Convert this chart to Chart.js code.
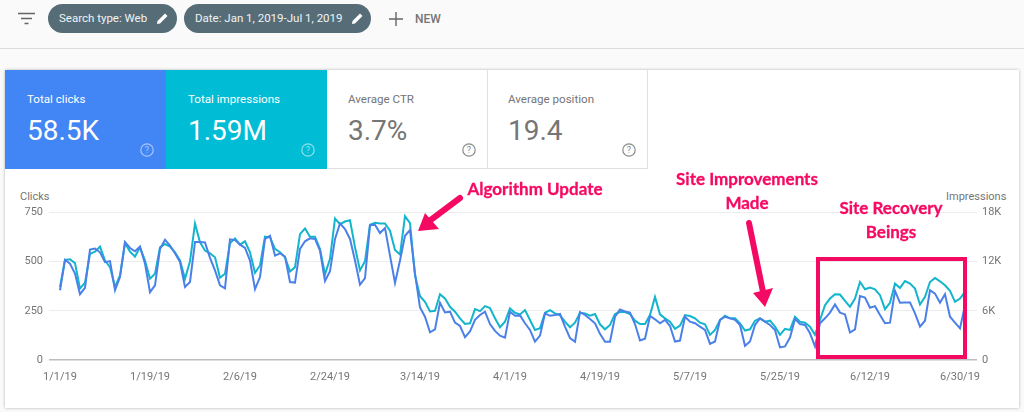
<!DOCTYPE html>
<html>
<head>
<meta charset="utf-8">
<title>Search performance</title>
<script src="https://cdn.jsdelivr.net/npm/chart.js@4"></script>
<style>
  * { box-sizing: border-box; }
  html, body { margin: 0; padding: 0; width: 1024px; height: 412px; overflow: hidden; background: #fafafa; font-family: Roboto, sans-serif; }
  .abs { position: absolute; }
  #bar { left: 0; top: 0; width: 1024px; height: 49px; border-bottom: 1px solid #dcdcdc; }
  .chip { height: 29px; top: 4px; border-radius: 15px; background: #566d78; color: #f1f4f5; font-size: 11.5px; line-height: 28px; padding-left: 11px; white-space: nowrap; }
  #card { left: 5px; top: 70px; width: 1014px; height: 338px; background: #fff; box-shadow: 0 0 3px rgba(0,0,0,.28); }
  .tile { top: 70px; width: 161px; height: 99px; background: #fff; color: #757575; }
  .tile .lbl { position: absolute; left: 22px; top: 22px; font-size: 11.6px; line-height: 14px; white-space: nowrap; }
  .tile .val { position: absolute; left: 22px; top: 44px; font-size: 28px; line-height: 34px; white-space: nowrap; }
  .tile svg { position: absolute; left: 134px; top: 72px; }
  .axt { top: 190px; font-size: 11px; line-height: 13px; color: #757575; }
  .note { color: #f50a63; font-family: Lato, sans-serif; font-weight: 700; font-size: 17px; line-height: 24px; text-align: center; white-space: nowrap; -webkit-text-stroke: 0.3px #f50a63; }
  #wrap { left: 0; top: 200px; width: 1024px; height: 212px; }
  #box { left: 816px; top: 257px; width: 151px; height: 102px; border: 4px solid #f50a63; }
</style>
</head>
<body>
<div class="abs" id="bar"></div>
<svg class="abs" style="left:18px;top:12px" width="18" height="13"><path d="M0 1.5h17M3 6.5h11M6.5 11.5h4" stroke="#666" stroke-width="1.6"/></svg>
<div class="abs chip" style="left:48px;width:129px">Search type: Web
  <svg class="abs" style="left:108px;top:8px" width="13" height="13"><path d="M1 12l.5-3L9 1.5l2.5 2.5L4 11.5z" fill="#fff"/></svg></div>
<div class="abs chip" style="left:184px;width:187px">Date: Jan 1, 2019-Jul 1, 2019
  <svg class="abs" style="left:167px;top:8px" width="13" height="13"><path d="M1 12l.5-3L9 1.5l2.5 2.5L4 11.5z" fill="#fff"/></svg></div>
<svg class="abs" style="left:389px;top:12px" width="14" height="14"><path d="M7 0v14M0 7h14" stroke="#666" stroke-width="1.4"/></svg>
<div class="abs" style="left:415px;top:12px;font-size:12px;line-height:14px;font-weight:500;color:#757575">NEW</div>

<div class="abs" id="card"></div>
<div class="abs tile" style="left:5px;background:#4285f4;color:#fff"><div class="lbl">Total clicks</div><div class="val">58.5K</div>
  <svg width="16" height="16"><circle cx="8" cy="8" r="6.2" fill="none" stroke="#a9c6fa" stroke-width="1.2"/><text x="8" y="11" font-size="9" text-anchor="middle" fill="#a9c6fa">?</text></svg></div>
<div class="abs tile" style="left:166px;background:#00bcd4;color:#fff"><div class="lbl">Total impressions</div><div class="val">1.59M</div>
  <svg width="16" height="16"><circle cx="8" cy="8" r="6.2" fill="none" stroke="#8fe0ea" stroke-width="1.2"/><text x="8" y="11" font-size="9" text-anchor="middle" fill="#8fe0ea">?</text></svg></div>
<div class="abs tile" style="left:327px;border-bottom:1px solid #e0e0e0"><div class="lbl" style="left:21px">Average CTR</div><div class="val" style="left:21px">3.7%</div>
  <svg width="16" height="16"><circle cx="8" cy="8" r="6.2" fill="none" stroke="#8a8a8a" stroke-width="1.2"/><text x="8" y="11" font-size="9" text-anchor="middle" fill="#8a8a8a">?</text></svg></div>
<div class="abs tile" style="left:487px;border:1px solid #e0e0e0;border-top:0"><div class="lbl" style="left:20px">Average position</div><div class="val" style="left:20px">19.4</div>
  <svg width="16" height="16" style="left:133px;top:72px"><circle cx="8" cy="8" r="6.2" fill="none" stroke="#8a8a8a" stroke-width="1.2"/><text x="8" y="11" font-size="9" text-anchor="middle" fill="#8a8a8a">?</text></svg></div>

<div class="abs axt" style="left:20px">Clicks</div>
<div class="abs axt" style="left:946px">Impressions</div>

<div class="abs" id="wrap"><canvas id="chart" width="1024" height="212"></canvas></div>

<div class="abs" id="box"></div>
<div class="abs note" style="left:467px;top:177px;width:136px">Algorithm Update</div>
<div class="abs note" style="left:667px;top:167px;width:160px">Site Improvements<br>Made</div>
<div class="abs note" style="left:811px;top:196px;width:160px">Site Recovery<br>Beings</div>
<svg class="abs" style="left:0;top:0" width="1024" height="412">
  <path d="M460 198L428 222M749 223L763 292" stroke="#f50a63" stroke-width="6" stroke-linecap="round" fill="none"/>
  <path d="M418 231L425 213L439 229Z M765 307L753 293L773 288Z" fill="#f50a63"/>
</svg>

<script>
// values, one per day from 1/1/19 to 7/1/19
const clicks = [
  355, 510, 490, 440, 335, 367, 562, 567, 548, 498, 503, 355, 422, 600,
  570, 553, 577, 490, 345, 380, 565, 612, 582, 543, 498, 372, 397, 600,
  600, 598, 520, 456, 380, 365, 614, 610, 587, 570, 506, 360, 422, 616,
  632, 531, 543, 526, 397, 394, 565, 604, 619, 616, 557, 402, 452, 616,
  695, 666, 616, 506, 383, 417, 686, 688, 646, 671, 531, 392, 506, 632,
  661, 439, 267, 220, 141, 156, 291, 242, 246, 190, 173, 116, 145, 204,
  229, 246, 183, 148, 124, 114, 246, 225, 227, 187, 153, 94, 124, 237,
  225, 229, 234, 170, 111, 93, 244, 229, 209, 187, 133, 93, 93, 220,
  257, 247, 241, 183, 99, 108, 224, 207, 187, 204, 173, 94, 99, 220,
  195, 187, 170, 153, 82, 94, 204, 220, 212, 204, 178, 72, 94, 178,
  212, 195, 178, 153, 64, 69, 114, 209, 183, 178, 136, 69, 187, 212,
  241, 283, 241, 232, 140, 156, 325, 318, 266, 274, 229, 187, 190, 352,
  291, 293, 293, 237, 170, 200, 355, 338, 291, 335, 220, 190, 161, 279
];
const impressions = [
  8920, 12230, 12310, 11825, 8718, 9444, 12955, 13238, 13843, 12148, 11341, 8920, 10332, 14287,
  13238, 12632, 13762, 12148, 9928, 10534, 13762, 14166, 13843, 13157, 12148, 9928, 12067, 16668,
  14368, 13359, 13036, 12552, 10049, 10534, 14247, 14852, 14085, 14489, 13157, 10655, 11543, 15054,
  14974, 13561, 13157, 12552, 10816, 11341, 15377, 16063, 15054, 15054, 13561, 10453, 12350, 17274,
  16588, 16911, 17072, 13763, 10938, 12068, 16507, 16749, 16669, 16669, 15781, 13440, 12875, 17557,
  16709, 10332, 7789, 7103, 5933, 6014, 8032, 7507, 6498, 5893, 5085, 4399, 4480, 6215,
  5973, 6579, 6337, 5085, 3996, 4682, 6296, 5771, 5570, 6094, 4884, 3673, 3875, 5771,
  6094, 5691, 5449, 4682, 3996, 4561, 5771, 5691, 5408, 5610, 4359, 3753, 4278, 5610,
  5852, 5852, 5610, 4803, 4399, 4399, 5489, 7709, 5570, 5085, 4682, 3794, 4197, 5489,
  5368, 5085, 4561, 4359, 3067, 3673, 4884, 5408, 5085, 5085, 4480, 3592, 3753, 4803,
  5085, 4682, 4803, 4076, 3067, 3794, 3673, 5287, 4682, 4561, 4076, 3067, 4884, 6700,
  7507, 8032, 7991, 7224, 6498, 7507, 9525, 8637, 8839, 8637, 7911, 6215, 6982, 9323,
  8798, 9646, 9323, 8718, 6780, 7709, 9525, 10009, 9606, 9121, 8435, 7103, 7507, 8314
];
const dateTicks = ['1/1/19', '1/19/19', '2/6/19', '2/24/19', '3/14/19', '4/1/19', '4/19/19', '5/7/19', '5/25/19', '6/12/19', '6/30/19'];
const clickTicks = [0, 250, 500, 750];
const impressionTicks = ['0', '6K', '12K', '18K'];

const tickFont = { family: 'Roboto', size: 11 };
const tickColor = '#757575';

new Chart(document.getElementById('chart'), {
  type: 'line',
  data: {
    datasets: [
      {
        label: 'Clicks',
        data: clicks.map((v, i) => ({ x: i, y: v })),
        yAxisID: 'y',
        borderColor: '#4a80e8',
        borderWidth: 2,
        pointRadius: 0,
        tension: 0
      },
      {
        label: 'Impressions',
        data: impressions.map((v, i) => ({ x: i, y: v })),
        yAxisID: 'y2',
        borderColor: '#12b5cb',
        borderWidth: 2,
        pointRadius: 0,
        tension: 0
      }
    ]
  },
  options: {
    responsive: false,
    animation: false,
    layout: { padding: { top: 11.7 } },
    plugins: { legend: { display: false }, tooltip: { enabled: false } },
    scales: {
      x: {
        type: 'linear',
        min: -2.2,
        max: 183.4,
        afterFit: s => { s.height = 52; },
        grid: { display: false, drawTicks: false },
        border: { display: false },
        ticks: {
          stepSize: 18,
          includeBounds: false,
          autoSkip: false,
          maxRotation: 0,
          padding: 11,
          color: tickColor,
          font: tickFont,
          callback: v => dateTicks[v / 18]
        }
      },
      y: {
        position: 'left',
        min: 0,
        max: 750,
        afterFit: s => { s.width = 49; },
        afterBuildTicks: s => { s.ticks = clickTicks.map(v => ({ value: v })); },
        border: { display: false },
        grid: {
          drawTicks: false,
          color: c => (c.tick.value === 0 ? '#bdbdbd' : '#ececec'),
          lineWidth: c => (c.tick.value === 0 ? 1.5 : 1)
        },
        ticks: { padding: 6, color: tickColor, font: tickFont }
      },
      y2: {
        position: 'right',
        min: 0,
        max: 18000,
        afterFit: s => { s.width = 47; },
        afterBuildTicks: s => { s.ticks = impressionTicks.map((t, i) => ({ value: i * 6000 })); },
        border: { display: false },
        grid: { display: false, drawTicks: false },
        ticks: {
          padding: 5,
          color: tickColor,
          font: tickFont,
          callback: v => impressionTicks[v / 6000]
        }
      }
    }
  }
});
</script>
</body>
</html>
